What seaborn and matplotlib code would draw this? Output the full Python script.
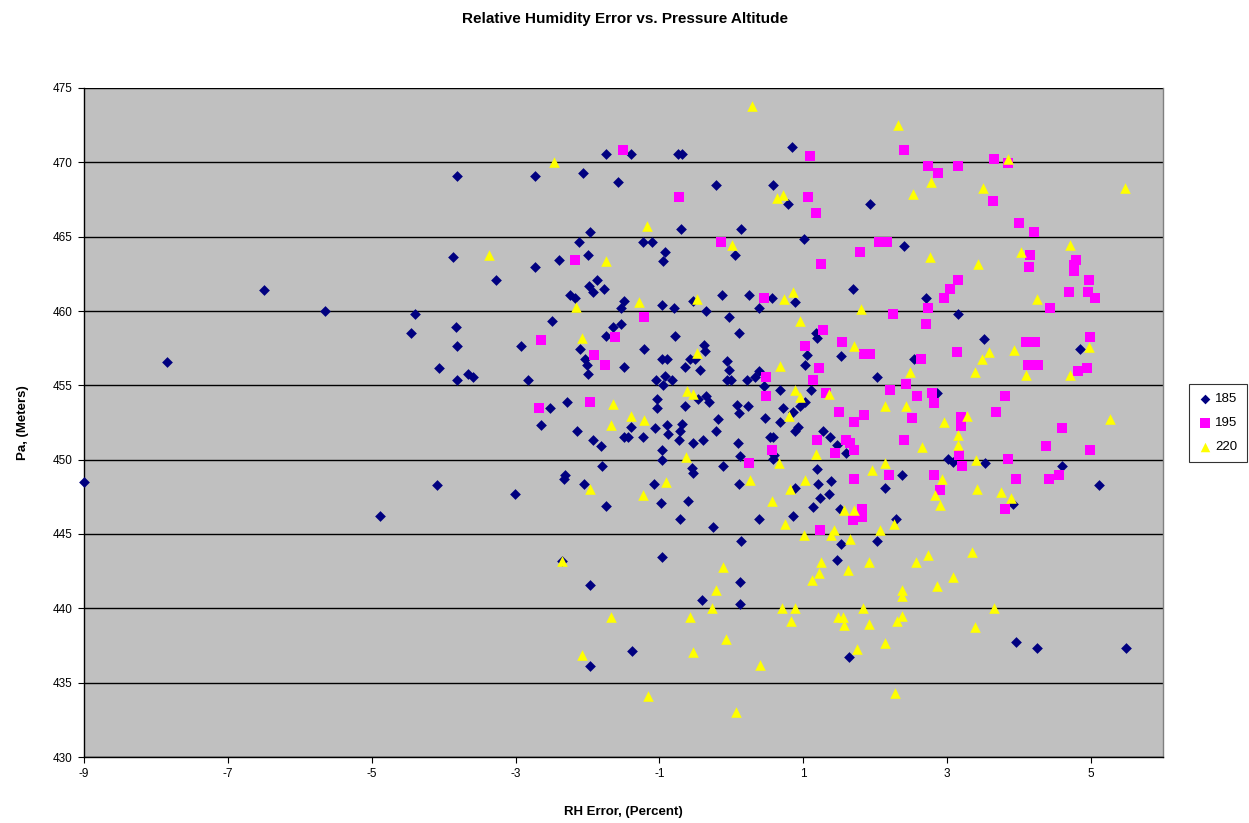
import matplotlib
matplotlib.use("Agg")
import matplotlib.pyplot as plt
import seaborn as sns
import pandas as pd

# RH error (percent) and pressure altitude (m) for each sonde group
rh_185 = [-9.0, -7.85, -6.5, -5.65, -4.89, -4.40, -4.45, -4.09, -4.07, -3.87, -3.82, -3.83, -3.81, -3.82,
          -3.66, -3.59, -3.27, -3.01, -2.92, -2.83, -2.73, -2.73, -2.52, -2.65, -2.49, -2.39, -2.31, -2.33,
          -2.36, -2.28, -2.14, -2.12, -2.06, -2.05, -2.10, -2.03, -2.01, -1.99, -1.99, -1.97, -1.97, -1.96,
          -1.93, -1.81, -1.80, -1.87, -1.98, -1.93, -1.77, -2.24, -2.18, -1.75, -1.74, -1.74, -1.64, -1.58,
          -1.53, -1.53, -1.49, -1.49, -1.49, -1.44, -1.40, -1.40, -1.38, -1.23, -1.23, -1.22, -1.10, -1.08,
          -1.06, -1.05, -1.03, -1.03, -0.98, -0.97, -0.96, -0.96, -0.96, -0.97, -0.95, -0.95, -0.93, -0.93,
          -0.90, -0.90, -0.88, -0.82, -0.80, -0.79, -0.74, -0.68, -0.73, -0.72, -0.70, -0.69, -0.71, -0.64,
          -0.64, -0.60, -0.58, -0.55, -0.54, -0.54, -0.54, -0.51, -0.46, -0.44, -0.41, -0.39, -0.38, -0.37,
          -0.35, -0.35, -0.31, -0.25, -0.22, -0.22, -0.18, -0.13, -0.12, -0.06, -0.04, -0.06, 0.00, -0.04,
          0.05, 0.08, 0.10, 0.09, 0.12, 0.10, 0.11, 0.12, 0.12, 0.13, 0.14, 0.21, 0.23, 0.24, 0.33, 0.38,
          0.39, 0.39, 0.45, 0.47, 0.53, 0.58, 0.59, 0.58, 0.56, 0.58, 0.67, 0.68, 0.72, 0.78, 0.84, 0.85,
          0.86, 0.88, 0.89, 0.89, 0.93, 0.96, 1.01, 1.03, 1.05, 1.02, 1.11, 1.14, 1.17, 1.19, 1.19, 1.20,
          1.23, 1.28, 1.35, 1.37, 1.39, 1.47, 1.47, 1.51, 1.52, 1.53, 1.60, 1.64, 1.69, 1.92, 2.02, 2.03,
          2.14, 2.29, 2.37, 2.40, 2.54, 2.71, 2.86, 3.01, 3.08, 3.15, 3.51, 3.53, 3.92, 3.96, 4.25, 4.60,
          4.85, 5.11, 5.49]
pa_185 = [448.5, 456.6, 461.4, 460.0, 446.2, 459.8, 458.5, 448.3, 456.15, 463.6, 469.1, 458.9, 457.65, 455.35,
          455.75, 455.55, 462.1, 447.7, 457.65, 455.35, 469.1, 462.95, 453.45, 452.35, 459.35, 463.4, 449.0, 448.7,
          443.2, 453.85, 451.95, 464.65, 469.3, 448.35, 457.45, 456.8, 456.4, 455.75, 463.8, 465.3, 441.55, 436.1,
          451.3, 450.9, 449.6, 462.1, 461.7, 461.3, 461.45, 461.05, 460.85, 458.3, 470.55, 446.85, 458.9, 468.65,
          459.15, 460.2, 460.65, 456.2, 451.55, 451.55, 470.55, 452.2, 437.1, 464.65, 451.5, 457.45, 464.65, 448.35,
          452.15, 455.35, 454.1, 453.45, 447.1, 443.45, 460.4, 456.8, 450.65, 450.0, 463.35, 455.05, 464.0, 455.6,
          456.8, 452.35, 451.7, 455.35, 460.2, 458.3, 470.55, 470.55, 451.3, 451.9, 465.5, 452.4, 446.0, 456.2,
          453.6, 447.25, 456.8, 449.45, 449.1, 451.1, 460.65, 456.75, 454.1, 456.0, 440.55, 451.3, 457.7, 457.3,
          460.0, 454.3, 453.85, 445.5, 468.45, 451.95, 452.75, 461.05, 449.6, 456.65, 456.0, 455.35, 455.35, 459.6,
          463.8, 453.65, 453.15, 451.1, 450.25, 448.35, 458.5, 441.8, 440.3, 465.5, 444.55, 455.35, 453.6, 461.05,
          455.55, 460.2, 455.95, 446.0, 454.95, 452.8, 451.55, 451.55, 450.3, 450.05, 460.85, 468.45, 452.55, 454.7,
          453.45, 467.2, 471.0, 446.2, 453.2, 451.95, 460.6, 448.1, 452.2, 453.6, 464.85, 453.85, 457.05, 456.35,
          454.7, 446.8, 458.55, 458.2, 449.4, 448.35, 447.45, 451.95, 447.7, 451.55, 448.55, 451.0, 443.25, 446.7,
          457.0, 444.3, 450.45, 436.7, 461.45, 467.2, 455.55, 444.5, 448.1, 446.0, 449.0, 464.4, 456.8, 460.85,
          454.5, 450.05, 449.85, 459.8, 458.1, 449.8, 447.05, 437.75, 437.35, 449.6, 457.45, 448.3, 437.35]

rh_195 = [-2.65, -2.68, -2.18, -1.96, -1.91, -1.76, -1.62, -1.51, -1.21, -0.73, -0.15, 0.24, 0.45, 0.48,
          0.48, 0.56, 1.03, 1.06, 1.09, 1.13, 1.18, 1.19, 1.22, 1.23, 1.24, 1.28, 1.32, 1.44, 1.50, 1.54,
          1.60, 1.65, 1.69, 1.70, 1.71, 1.71, 1.79, 1.81, 1.81, 1.84, 1.84, 1.92, 2.05, 2.17, 2.19, 2.20,
          2.25, 2.40, 2.40, 2.43, 2.51, 2.58, 2.63, 2.71, 2.74, 2.74, 2.79, 2.82, 2.81, 2.87, 2.90, 2.96,
          3.04, 3.14, 3.15, 3.15, 3.16, 3.19, 3.19, 3.20, 3.64, 3.65, 3.68, 3.80, 3.81, 3.84, 3.85, 3.96,
          4.00, 4.09, 4.22, 4.13, 4.26, 4.15, 4.14, 4.20, 4.37, 4.41, 4.43, 4.56, 4.59, 4.69, 4.76, 4.76,
          4.79, 4.82, 4.95, 4.96, 4.97, 4.98, 4.98, 5.05]
pa_195 = [458.05, 453.45, 463.4, 453.85, 457.05, 456.35, 458.25, 470.8, 459.6, 467.65, 464.65, 449.8, 460.85, 455.55,
          454.25, 450.65, 457.65, 467.65, 470.4, 455.35, 466.6, 451.3, 456.15, 445.25, 463.15, 458.7, 454.5, 450.45,
          453.2, 457.9, 451.35, 451.1, 445.95, 448.7, 452.55, 450.65, 464.0, 446.7, 446.15, 453.0, 457.1, 457.1,
          464.65, 464.65, 449.0, 454.7, 459.8, 470.8, 451.3, 455.1, 452.8, 454.25, 456.8, 459.15, 469.75, 460.2,
          454.5, 453.8, 449.0, 469.3, 447.95, 460.85, 461.5, 457.25, 469.75, 462.1, 450.3, 452.85, 452.25, 449.6,
          467.4, 470.2, 453.2, 454.25, 446.65, 469.95, 450.05, 448.7, 465.95, 457.9, 457.9, 456.4, 456.4, 463.8,
          462.95, 465.3, 450.9, 448.7, 460.2, 449.0, 452.15, 461.25, 463.1, 462.7, 463.4, 455.95, 456.15, 461.25,
          462.1, 458.25, 450.65, 460.85]

rh_220 = [-3.37, -2.47, -2.36, -2.16, -2.08, -2.08, -1.97, -1.74, -1.68, -1.67, -1.65, -1.39, -1.28, -1.23,
          -1.22, -1.17, -1.16, -0.91, -0.63, -0.62, -0.57, -0.54, -0.53, -0.48, -0.48, -0.27, -0.21, -0.11,
          -0.07, 0.01, 0.07, 0.26, 0.28, 0.40, 0.57, 0.63, 0.66, 0.68, 0.71, 0.72, 0.73, 0.75, 0.80, 0.81,
          0.83, 0.85, 0.88, 0.89, 0.95, 0.95, 1.01, 1.02, 1.12, 1.17, 1.22, 1.24, 1.36, 1.39, 1.43, 1.48,
          1.55, 1.56, 1.57, 1.62, 1.65, 1.70, 1.70, 1.75, 1.80, 1.83, 1.91, 1.91, 1.96, 2.06, 2.13, 2.13,
          2.14, 2.26, 2.27, 2.30, 2.32, 2.37, 2.37, 2.37, 2.43, 2.48, 2.52, 2.56, 2.65, 2.74, 2.76, 2.77,
          2.83, 2.86, 2.90, 2.93, 2.95, 3.08, 3.15, 3.15, 3.28, 3.35, 3.38, 3.38, 3.40, 3.42, 3.43, 3.48,
          3.50, 3.58, 3.65, 3.75, 3.84, 3.88, 3.93, 4.02, 4.10, 4.25, 4.71, 4.71, 4.97, 5.27, 5.47]
pa_220 = [463.75, 470.0, 443.2, 460.3, 458.2, 436.85, 448.0, 463.35, 439.4, 452.3, 453.75, 452.95, 460.6, 447.65,
          452.7, 465.7, 434.1, 448.5, 450.15, 454.6, 439.4, 437.05, 454.4, 460.8, 457.2, 440.0, 441.25, 442.75,
          437.95, 464.45, 433.0, 448.65, 473.8, 436.2, 447.2, 467.6, 449.75, 456.3, 440.0, 467.8, 460.8, 445.7,
          452.95, 448.0, 439.15, 461.25, 454.7, 440.0, 459.3, 454.2, 444.9, 448.65, 441.9, 450.4, 442.35, 443.15,
          454.4, 444.9, 445.25, 439.4, 439.4, 438.9, 446.6, 442.55, 444.65, 457.65, 446.6, 437.25, 460.15, 440.0,
          443.15, 438.95, 449.3, 445.25, 449.8, 437.65, 453.6, 445.7, 434.3, 439.15, 472.5, 441.25, 440.8, 439.5,
          453.6, 455.9, 467.85, 443.15, 450.85, 443.6, 463.6, 468.65, 447.6, 441.5, 446.95, 448.7, 452.55, 442.1,
          451.65, 451.0, 452.95, 443.8, 455.9, 438.75, 450.0, 448.05, 463.15, 456.75, 468.25, 457.25, 440.0, 447.8,
          470.2, 447.4, 457.4, 464.0, 455.7, 460.8, 464.45, 455.7, 457.6, 452.75, 468.25]

series_names = ["185", "195", "220"]
series_colors = {"185": "#000080", "195": "#FF00FF", "220": "#FFFF00"}
series_markers = {"185": "D", "195": "s", "220": "^"}
series_sizes = {"185": 30, "195": 52, "220": 58}

x_ticks = [-9, -7, -5, -3, -1, 1, 3, 5]
y_ticks = [430, 435, 440, 445, 450, 455, 460, 465, 470, 475]

frames = []
for name, xs, ys in zip(series_names, [rh_185, rh_195, rh_220], [pa_185, pa_195, pa_220]):
    frames.append(pd.DataFrame({"rh": xs, "pa": ys, "series": name}))
df = pd.concat(frames, ignore_index=True)

sns.set_style("white")
plt.rcParams["font.family"] = ["Liberation Sans", "DejaVu Sans"]
plt.rcParams["text.color"] = "black"
plt.rcParams["axes.labelcolor"] = "black"
plt.rcParams["xtick.color"] = "black"
plt.rcParams["ytick.color"] = "black"

fig = plt.figure(figsize=(12.49, 8.23), dpi=100)
ax = fig.add_axes([84 / 1249, 1 - 757 / 823, (1163 - 84) / 1249, (757 - 88) / 823])
ax.set_facecolor("#C0C0C0")

for name in series_names:
    sub = df[df["series"] == name]
    sns.scatterplot(data=sub, x="rh", y="pa", ax=ax, color=series_colors[name],
                    marker=series_markers[name], s=series_sizes[name], linewidth=0,
                    label=name, zorder=3, clip_on=False)

ax.set_xlim(-9, 6)
ax.set_ylim(430, 475)
ax.set_xticks(x_ticks)
ax.set_yticks(y_ticks)
ax.set_xticklabels([str(t) for t in x_ticks], fontsize=8.5)
ax.set_yticklabels([str(t) for t in y_ticks], fontsize=8.5)
ax.yaxis.grid(True, color="black", linewidth=1.0, zorder=1)
ax.xaxis.grid(False)
ax.set_axisbelow(True)
ax.tick_params(axis="both", direction="out", length=4, width=0.8, color="black",
               left=True, bottom=True, pad=4)

for side in ["left", "bottom"]:
    ax.spines[side].set_color("black")
    ax.spines[side].set_linewidth(1.0)
ax.spines["top"].set_visible(False)
ax.spines["right"].set_color("#808080")
ax.spines["right"].set_linewidth(1.0)

ax.set_xlabel("RH Error, (Percent)", fontsize=9.5, fontweight="bold", labelpad=19)
ax.set_ylabel("Pa, (Meters)", fontsize=9.5, fontweight="bold", labelpad=17)
fig.suptitle("Relative Humidity Error vs. Pressure Altitude", fontsize=11, fontweight="bold",
             y=1 - 19 / 823, va="center")

if ax.legend_ is not None:
    ax.legend_.remove()
h, l = ax.get_legend_handles_labels()
leg = fig.legend(h, l, loc="center", bbox_to_anchor=(1218 / 1249, 1 - 423 / 823), frameon=True,
                 fancybox=False, edgecolor="black", facecolor="white", fontsize=9.5,
                 handletextpad=0.3, borderpad=0.7, labelspacing=0.9, handlelength=1.0,
                 markerscale=0.9)
leg.get_frame().set_linewidth(0.8)

fig.savefig("out.png", dpi=100, facecolor="white")
